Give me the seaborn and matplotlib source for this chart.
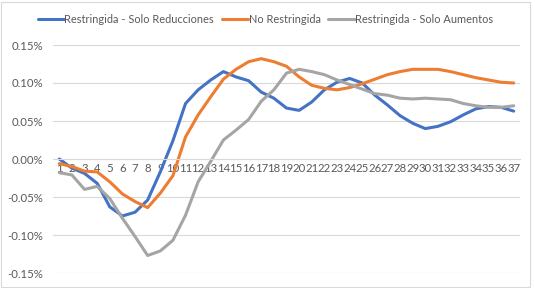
import numpy as np
import pandas as pd
import matplotlib
matplotlib.use("Agg")
import matplotlib.pyplot as plt
import seaborn as sns
from matplotlib.ticker import FuncFormatter, MultipleLocator
from matplotlib.patches import Rectangle

periodos = list(range(1, 38))

# valores en %
solo_reducciones = [0.000, -0.012, -0.019, -0.032, -0.063, -0.075, -0.070, -0.054, -0.017, 0.024,
                    0.073, 0.091, 0.104, 0.115, 0.108, 0.103, 0.088, 0.080, 0.067, 0.064,
                    0.075, 0.091, 0.101, 0.106, 0.100, 0.084, 0.071, 0.057, 0.047, 0.040,
                    0.043, 0.049, 0.058, 0.066, 0.069, 0.068, 0.063]
no_restringida = [-0.006, -0.010, -0.016, -0.017, -0.030, -0.046, -0.056, -0.064, -0.045, -0.022,
                  0.029, 0.058, 0.082, 0.105, 0.118, 0.128, 0.132, 0.128, 0.122, 0.108,
                  0.097, 0.093, 0.091, 0.094, 0.099, 0.105, 0.111, 0.115, 0.118, 0.118,
                  0.118, 0.115, 0.111, 0.107, 0.104, 0.101, 0.100]
solo_aumentos = [-0.018, -0.021, -0.040, -0.036, -0.052, -0.078, -0.102, -0.127, -0.121, -0.107,
                 -0.074, -0.030, -0.003, 0.025, 0.038, 0.052, 0.076, 0.091, 0.113, 0.118,
                 0.115, 0.111, 0.104, 0.098, 0.092, 0.086, 0.084, 0.080, 0.079, 0.080,
                 0.079, 0.078, 0.073, 0.070, 0.068, 0.068, 0.070]

series = ["Restringida - Solo Reducciones", "No Restringida", "Restringida - Solo Aumentos"]
colores = ["#4472C4", "#ED7D31", "#A5A5A5"]

df = pd.DataFrame({
    "periodo": periodos * 3,
    "valor": solo_reducciones + no_restringida + solo_aumentos,
    "serie": [series[0]] * 37 + [series[1]] * 37 + [series[2]] * 37,
})

sns.set_style("white")
plt.rcParams['font.family'] = ['Lato', 'DejaVu Sans']

fig = plt.figure(figsize=(5.35, 2.88), dpi=100)
ax = fig.add_axes([53 / 535, 15 / 288, 467 / 535, 228 / 288])

sns.lineplot(data=df, x="periodo", y="valor", hue="serie", palette=colores,
             linewidth=2.2, ax=ax, legend=True)

ax.set_xlim(0.5, 37.5)
ax.set_ylim(-0.15, 0.15)
ax.yaxis.set_major_locator(MultipleLocator(0.05))
ax.yaxis.set_major_formatter(FuncFormatter(lambda v, p: f"{v:.2f}%"))
ax.set_xticks(periodos)
ax.set_xticklabels([str(p) for p in periodos])
ax.grid(axis="y", color="#D9D9D9", linewidth=0.8)
ax.set_axisbelow(True)
ax.set_xlabel("")
ax.set_ylabel("")

for s in ["top", "right", "left"]:
    ax.spines[s].set_visible(False)
ax.spines["bottom"].set_position(("data", 0))
ax.spines["bottom"].set_color("#D9D9D9")
ax.tick_params(axis="x", length=0, pad=3, labelsize=8.2, labelcolor="#595959")
ax.tick_params(axis="y", length=0, pad=7, labelsize=8.2, labelcolor="#595959")

leg = ax.legend(loc="upper center", bbox_to_anchor=(0.455, 1.18), ncol=3, frameon=False,
                fontsize=7.9, handlelength=2.4, handletextpad=0.05, columnspacing=0.7)
for t in leg.get_texts():
    t.set_color("#595959")

fig.patches.append(Rectangle((1 / 535, 1 / 288), 529 / 535, 285 / 288, transform=fig.transFigure,
                             fill=False, edgecolor="#D9D9D9", linewidth=0.8))

fig.savefig("out.png", dpi=100)
